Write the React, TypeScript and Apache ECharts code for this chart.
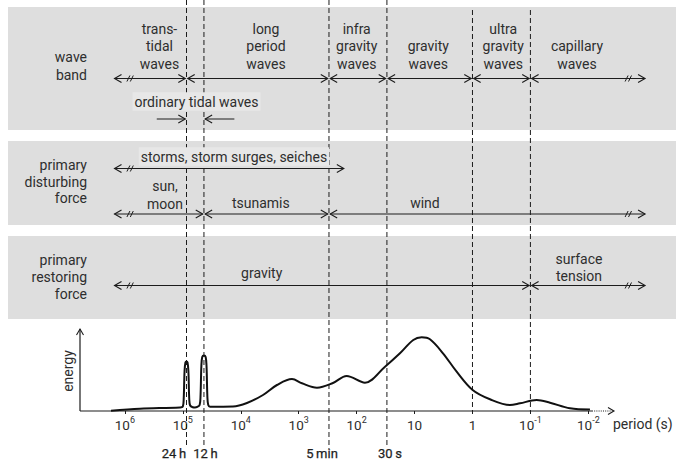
import React, { useEffect, useRef } from "react";
import * as echarts from "echarts";

const lg = Math.log10;

// ---------- data ----------
// axis tick exponents: 10^e seconds
const TICK_EXPONENTS = [6, 5, 4, 3, 2, 1, 0, -1, -2];

// boundary periods (s) drawn as dashed lines
const BOUNDARY_PERIODS = [86400, 43200, 300, 30, 1, 0.1];
const BOUNDARY_LABELS = ["24\u2009h", "12\u2009h", "5\u2009min", "30\u2009s", "", ""];

// open-ended arrow limits (log10 of period)
const OPEN_LEFT = 6.2;
const OPEN_RIGHT = -3.0;
const BREAK_LEFT = 5.91;
const BREAK_RIGHT = -2.69;

// wave bands
const WAVE_BANDS = [
  "trans-\ntidal\nwaves",
  "long\nperiod\nwaves",
  "infra\ngravity\nwaves",
  "gravity\nwaves",
  "ultra\ngravity\nwaves",
  "capillary\nwaves",
];
const WAVE_BAND_EDGES = [OPEN_LEFT, lg(86400), lg(300), lg(30), lg(1), lg(0.1), OPEN_RIGHT];

// ordinary tidal waves (between 24 h and 12 h)
const ORDINARY_TIDAL = "ordinary tidal waves";
const ORDINARY_TAILS = [5.45, 4.11];

// primary disturbing force
const DISTURBING = ["storms, storm surges, seiches", "sun,\nmoon", "tsunamis", "wind"];
const DISTURBING_RANGES = [
  [OPEN_LEFT, 2.2],
  [OPEN_LEFT, lg(43200)],
  [lg(43200), lg(300)],
  [lg(300), OPEN_RIGHT],
];

// primary restoring force
const RESTORING = ["gravity", "surface\ntension"];
const RESTORING_EDGES = [OPEN_LEFT, lg(0.1), OPEN_RIGHT];

// energy spectrum: log10(period) and relative energy
const ENERGY_LOGP = [
  6.24, 5.74, 5.05, 5.0, 4.985, 4.97, 4.955, 4.937, 4.919, 4.904, 4.889, 4.874,
  4.83, 4.79, 4.75, 4.71, 4.695, 4.68, 4.665, 4.6355, 4.606, 4.591, 4.576, 4.561,
  4.53, 4.134, 3.893, 3.616, 3.375, 3.116, 2.943, 2.684, 2.408, 2.172, 1.856,
  1.51, 1.252, 1.022, 0.877, 0.734, 0.509, 0.273, -0.003, -0.302, -0.647, -0.82,
  -1.108, -1.338, -1.683, -2.028,
];
const ENERGY = [
  0.3, 2.3, 3.6, 4.5, 12, 40, 48.5, 49.5, 48.5, 40, 12, 5.5,
  3.8, 3.6, 4.2, 6, 14, 45, 54, 55.5, 54, 45, 14, 6,
  4.3, 4.5, 8, 16, 26, 32, 27.7, 23.3, 28, 35, 28.3,
  44.3, 57.7, 71, 73.7, 71.7, 57.7, 39.3, 21, 11.7, 6, 7.7,
  11, 8.3, 2.7, 1.5,
];

// ---------- layout ----------
const W = 676;
const H = 461;
const GRID_LEFT = 80;
const GRID_RIGHT = 62;
const U_MIN = -6.775;
const U_MAX = 2.443;
const U_SOLID_END = 2.063;
const E_MAX = 82;
const INK = "#1c1c1c";
const TXT = "#2e2e2e";
const FONT = "Roboto";
const FS = 14;
const PANEL = "#dedede";

const WAVE_ROW = 78.5;
const ORD_ROW = 119;
const STORM_ROW = 168.5;
const FORCE_ROW = 214;
const RESTORE_ROW = 285.5;

const WAVE_LABEL_X = [5.403, 3.565, 1.999, 0.763, -0.53, -1.804];
const WAVE_LABEL_BOTTOM = 72.5;
const ORD_LABEL = [4.764, 101.5];
const DIST_LABEL_POS = [
  [4.117, 156.5],
  [5.308, 195],
  [3.654, 202.5],
  [0.82, 202.5],
];
const REST_LABEL_POS = [
  [3.639, 273],
  [-1.838, 267.3],
];
const DASH_TOP = [0, 0, 0, 0, 10, 10];
const DASH_BOTTOM = [447, 447, 449, 447, 411, 411];
const BOUNDARY_LABEL_DX = [-12.5, 1.5, -7, 3, 0, 0];
const BOUNDARY_LABEL_Y = 453;

type Arrow = { from: number; to: number; y: number; headL: boolean; headR: boolean; brk: number | null };

function buildArrows(): Arrow[] {
  const arr: Arrow[] = [];
  const brkOf = (from: number, to: number) =>
    from === OPEN_LEFT ? BREAK_LEFT : to === OPEN_RIGHT ? BREAK_RIGHT : null;
  for (let i = 0; i < WAVE_BANDS.length; i++) {
    const f = WAVE_BAND_EDGES[i], t = WAVE_BAND_EDGES[i + 1];
    arr.push({ from: f, to: t, y: WAVE_ROW, headL: true, headR: true, brk: brkOf(f, t) });
  }
  arr.push({ from: ORDINARY_TAILS[0], to: lg(86400), y: ORD_ROW, headL: false, headR: true, brk: null });
  arr.push({ from: lg(43200), to: ORDINARY_TAILS[1], y: ORD_ROW, headL: true, headR: false, brk: null });
  DISTURBING_RANGES.forEach(([f, t], i) => {
    arr.push({ from: f, to: t, y: i === 0 ? STORM_ROW : FORCE_ROW, headL: true, headR: true, brk: brkOf(f, t) });
  });
  for (let i = 0; i < RESTORING.length; i++) {
    const f = RESTORING_EDGES[i], t = RESTORING_EDGES[i + 1];
    arr.push({ from: f, to: t, y: RESTORE_ROW, headL: true, headR: true, brk: brkOf(f, t) });
  }
  return arr;
}

type Lbl = { text: string; L: number; y: number; valign: string; bg?: boolean };

function buildLabels(): Lbl[] {
  const out: Lbl[] = [];
  WAVE_BANDS.forEach((t, i) => out.push({ text: t, L: WAVE_LABEL_X[i], y: WAVE_LABEL_BOTTOM, valign: "bottom" }));
  out.push({ text: ORDINARY_TIDAL, L: ORD_LABEL[0], y: ORD_LABEL[1], valign: "middle", bg: true });
  DISTURBING.forEach((t, i) =>
    out.push({ text: t, L: DIST_LABEL_POS[i][0], y: DIST_LABEL_POS[i][1], valign: "middle", bg: i === 0 })
  );
  RESTORING.forEach((t, i) => out.push({ text: t, L: REST_LABEL_POS[i][0], y: REST_LABEL_POS[i][1], valign: "middle" }));
  return out;
}

function chevron(x: number, y: number, dir: number, w = 7, h = 4) {
  return {
    type: "polyline",
    shape: { points: [[x + dir * w, y - h], [x, y], [x + dir * w, y + h]] },
    style: { stroke: INK, fill: "none", lineWidth: 1.1 },
  };
}

export default function App() {
  const ref = useRef<HTMLDivElement>(null);
  useEffect(() => {
    if (!ref.current) return;
    const chart = echarts.init(ref.current, undefined, { renderer: "svg" });
    const arrows = buildArrows();
    const labels = buildLabels();

    const option: any = {
      animation: false,
      backgroundColor: "#fff",
      grid: [
        { left: GRID_LEFT, right: GRID_RIGHT, top: 329, bottom: H - 411 },
        { left: GRID_LEFT, right: GRID_RIGHT, top: 0, bottom: 0 },
      ],
      xAxis: [
        {
          gridIndex: 0,
          type: "value",
          min: U_MIN,
          max: U_MAX,
          axisLine: { show: false },
          splitLine: { show: false },
          axisTick: {
            show: true,
            customValues: TICK_EXPONENTS.map((e) => -e),
            length: 3,
            lineStyle: { color: INK },
          },
          axisLabel: {
            customValues: TICK_EXPONENTS.map((e) => -e),
            margin: 4,
            formatter: (v: number) => {
              const e = Math.round(-v);
              if (e === 1) return "{b|10}";
              if (e === 0) return "{b|1}";
              return `{b|10}{s|${e}}`;
            },
            rich: {
              b: { fontSize: 13.5, fontFamily: FONT, color: TXT, lineHeight: 17, verticalAlign: "bottom" },
              s: { fontSize: 9, fontFamily: FONT, color: TXT, lineHeight: 17, verticalAlign: "top" },
            },
          },
        },
        { gridIndex: 1, type: "value", min: U_MIN, max: U_MAX, show: false },
      ],
      yAxis: [
        { gridIndex: 0, type: "value", min: 0, max: E_MAX, show: false },
        { gridIndex: 1, type: "value", min: 0, max: H, inverse: true, show: false },
      ],
      graphic: [
        { type: "rect", z: 0, shape: { x: 8, y: 7, width: W - 8, height: 123 }, style: { fill: PANEL } },
        { type: "rect", z: 0, shape: { x: 8, y: 141, width: W - 8, height: 84 }, style: { fill: PANEL } },
        { type: "rect", z: 0, shape: { x: 8, y: 236, width: W - 8, height: 83 }, style: { fill: PANEL } },
        {
          type: "text", z: 1, x: 87, y: 66,
          style: { text: "wave\nband", align: "right", verticalAlign: "middle", fontSize: FS, fontFamily: FONT, fill: TXT, lineHeight: 17.5 },
        },
        {
          type: "text", z: 1, x: 87, y: 181.5,
          style: { text: "primary\ndisturbing\nforce", align: "right", verticalAlign: "middle", fontSize: FS, fontFamily: FONT, fill: TXT, lineHeight: 16.7 },
        },
        {
          type: "text", z: 1, x: 87, y: 277,
          style: { text: "primary\nrestoring\nforce", align: "right", verticalAlign: "middle", fontSize: FS, fontFamily: FONT, fill: TXT, lineHeight: 17 },
        },
        {
          type: "text", z: 1, x: 68, y: 371, rotation: Math.PI / 2,
          style: { text: "energy", align: "center", verticalAlign: "middle", fontSize: FS, fontFamily: FONT, fill: TXT },
        },
        {
          type: "text", z: 1, x: 613, y: 424,
          style: { text: "period (s)", align: "left", verticalAlign: "middle", fontSize: FS, fontFamily: FONT, fill: TXT },
        },
      ],
      series: [
        // dashed boundary lines
        {
          type: "custom",
          xAxisIndex: 1,
          yAxisIndex: 1,
          z: 3,
          clip: false,
          data: BOUNDARY_PERIODS.map((p, i) => [-lg(p), DASH_TOP[i], DASH_BOTTOM[i]]),
          renderItem: (params: any, api: any) => {
            const i = params.dataIndex;
            const u = -lg(BOUNDARY_PERIODS[i]);
            const a = api.coord([u, DASH_TOP[i]]);
            const b = api.coord([u, DASH_BOTTOM[i]]);
            const children: any[] = [
              {
                type: "line",
                shape: { x1: a[0], y1: a[1], x2: b[0], y2: b[1] },
                style: { stroke: INK, lineWidth: 1, lineDash: [5, 3] },
              },
            ];
            if (BOUNDARY_LABELS[i]) {
              const c = api.coord([u, BOUNDARY_LABEL_Y]);
              children.push({
                type: "text",
                x: c[0] + BOUNDARY_LABEL_DX[i],
                y: c[1],
                style: {
                  text: BOUNDARY_LABELS[i], align: "center", verticalAlign: "middle",
                  fontSize: 13, fontFamily: FONT, fill: "#1e1e1e", stroke: "#1e1e1e", lineWidth: 0.25,
                },
              });
            }
            return { type: "group", children };
          },
        },
        // band labels
        {
          type: "custom",
          xAxisIndex: 1,
          yAxisIndex: 1,
          z: 4,
          clip: false,
          data: labels.map((l) => [-l.L, l.y]),
          renderItem: (params: any, api: any) => {
            const l = labels[params.dataIndex];
            const c = api.coord([-l.L, l.y]);
            return {
              type: "text",
              x: c[0],
              y: c[1],
              style: {
                text: l.text, align: "center", verticalAlign: l.valign,
                fontSize: FS, fontFamily: FONT, fill: TXT, lineHeight: 17.5,
                backgroundColor: l.bg ? "#e7e7e7" : undefined,
                padding: l.bg ? [1, 2, 0, 2] : 0,
              },
            };
          },
        },
        // arrows
        {
          type: "custom",
          xAxisIndex: 1,
          yAxisIndex: 1,
          z: 5,
          clip: false,
          data: arrows.map((a) => [-a.from, a.y]),
          renderItem: (params: any, api: any) => {
            const a = arrows[params.dataIndex];
            const p1 = api.coord([-a.from, a.y]);
            const p2 = api.coord([-a.to, a.y]);
            const y = p1[1];
            const x1 = p1[0] + (a.headL ? 1.2 : 0);
            const x2 = p2[0] - (a.headR ? 1.2 : 0);
            const ch: any[] = [
              { type: "line", shape: { x1, y1: y, x2, y2: y }, style: { stroke: INK, lineWidth: 1 } },
            ];
            if (a.headL) ch.push(chevron(x1, y, 1));
            if (a.headR) ch.push(chevron(x2, y, -1));
            if (a.brk != null) {
              const bx = api.coord([-a.brk, a.y])[0];
              [-1.7, 1.7].forEach((d) =>
                ch.push({
                  type: "line",
                  shape: { x1: bx + d - 1.5, y1: y + 3, x2: bx + d + 1.5, y2: y - 3 },
                  style: { stroke: INK, lineWidth: 1 },
                })
              );
            }
            return { type: "group", children: ch };
          },
        },
        // axes of the energy plot
        {
          type: "custom",
          xAxisIndex: 0,
          yAxisIndex: 0,
          z: 5,
          clip: false,
          data: [[U_MIN, 0], [U_MIN, E_MAX]],
          renderItem: (params: any, api: any) => {
            const o = api.coord([U_MIN, 0]);
            if (params.dataIndex === 0) {
              const s = api.coord([U_SOLID_END, 0]);
              const e = api.coord([U_MAX, 0]);
              return {
                type: "group",
                children: [
                  { type: "line", shape: { x1: o[0], y1: o[1], x2: s[0], y2: s[1] }, style: { stroke: INK, lineWidth: 1.2 } },
                  { type: "line", shape: { x1: s[0], y1: s[1], x2: e[0] - 1, y2: e[1] }, style: { stroke: INK, lineWidth: 1.2, lineDash: [1, 1.2] } },
                  {
                    type: "polyline",
                    shape: { points: [[e[0] - 6, e[1] - 3.5], [e[0], e[1]], [e[0] - 6, e[1] + 3.5]] },
                    style: { stroke: INK, fill: "none", lineWidth: 1.1 },
                  },
                ],
              };
            }
            const t = api.coord([U_MIN, E_MAX]);
            return {
              type: "group",
              children: [
                { type: "line", shape: { x1: o[0], y1: o[1], x2: t[0], y2: t[1] }, style: { stroke: INK, lineWidth: 1.2 } },
                {
                  type: "polyline",
                  shape: { points: [[t[0] - 3.5, t[1] + 6], [t[0], t[1]], [t[0] + 3.5, t[1] + 6]] },
                  style: { stroke: INK, fill: "none", lineWidth: 1.1 },
                },
              ],
            };
          },
        },
        // energy spectrum
        {
          type: "line",
          xAxisIndex: 0,
          yAxisIndex: 0,
          z: 6,
          clip: false,
          showSymbol: false,
          smooth: 0.35,
          lineStyle: { color: "#111", width: 2 },
          data: ENERGY_LOGP.map((L, i) => [-L, ENERGY[i]]),
        },
      ],
    };
    chart.setOption(option);
    return () => chart.dispose();
  }, []);
  return <div ref={ref} style={{ position: "fixed", left: 0, top: 0, width: W, height: H }} />;
}
